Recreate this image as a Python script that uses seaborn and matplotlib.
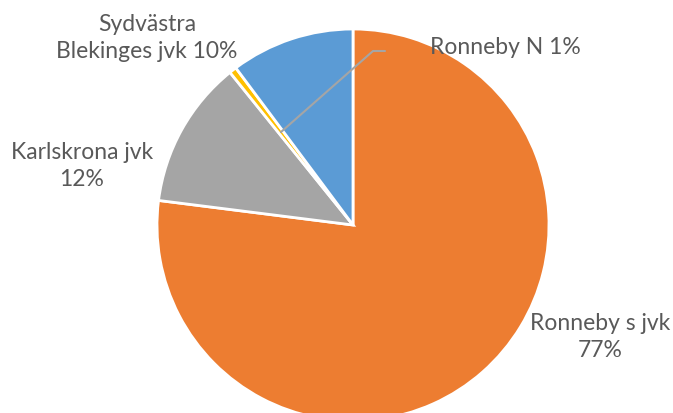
import numpy as np
import seaborn as sns
import matplotlib.pyplot as plt

# data
labels = ["Ronneby s jvk", "Karlskrona jvk", "Ronneby N", "Sydvästra Blekinges jvk"]
shares = [77.0, 12.2, 0.6, 10.2]
colors = ["#ED7D31", "#A5A5A5", "#FFC000", "#5B9BD5"]

sns.set_theme(style="white")
plt.rcParams['font.family'] = ['Lato', 'DejaVu Sans']

W, H = 673, 414
cx, cy, R = 353, 226, 196


def px(x, y):
    # pixel position -> data units (pie radius = 1)
    return (x - cx) / R, (cy - y) / R


fig = plt.figure(figsize=(W / 100, H / 100), dpi=100)
ax = fig.add_axes([0, 0, 1, 1])
wedges, _ = ax.pie(shares, colors=colors, startangle=90, counterclock=False,
                   radius=1, wedgeprops=dict(edgecolor="white", linewidth=2))
ax.set_xlim(-cx / R, (W - cx) / R)
ax.set_ylim(-(H - cy) / R, cy / R)
ax.set_aspect("equal")
ax.axis("off")

pct = [f"{round(s):.0f}%" for s in shares]
txt = dict(color="#595959", fontsize=16.5, ha="center", va="center", linespacing=1.3)

ax.text(*px(600, 337), f"{labels[0]}\n{pct[0]}", **txt)
ax.text(*px(82, 166), f"{labels[1]}\n{pct[1]}", **txt)
ax.text(*px(147, 38), f"Sydvästra\nBlekinges jvk {pct[3]}", **txt)

# leader line to the thin slice
w = wedges[2]
mid = np.deg2rad((w.theta1 + w.theta2) / 2)
tip = (0.6 * np.cos(mid), 0.6 * np.sin(mid))
elbow = px(373, 52)
ax.plot([tip[0], elbow[0], px(385, 52)[0]], [tip[1], elbow[1], elbow[1]],
        color="#A5A5A5", lw=1.5)
ax.text(*px(430, 47), f"{labels[2]} {pct[2]}", **{**txt, "ha": "left"})

fig.savefig("out.png", dpi=100)
